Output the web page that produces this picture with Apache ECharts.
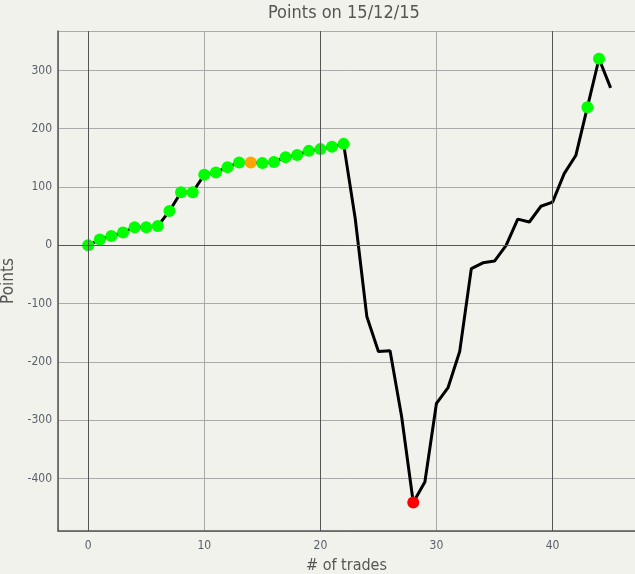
<!DOCTYPE html>
<html><head><meta charset="utf-8">
<script src="https://cdn.jsdelivr.net/npm/echarts@6/dist/echarts.min.js"></script>
<style>html,body{margin:0;padding:0;background:#f2f2ec}#c{width:635px;height:574px}</style>
</head><body><div id="c"></div>
<script>
const titleText = 'Points on 15/12/15';
const xName = '# of trades';
const yName = 'Points';
const trades = [0,1,2,3,4,5,6,7,8,9,10,11,12,13,14,15,16,17,18,19,20,21,22,23,24,25,26,27,28,29,30,31,32,33,34,35,36,37,38,39,40,41,42,43,44,45];
const points = [0,10,16,22,31,31,33,59,91,91,121,125,134,142,142,141,143,151,155,162,165,169,174,46,-122,-182,-181,-294,-441,-406,-271,-244,-182,-40,-30,-27,0,45,40,67,74,123,154,237,320,270];
const markerColors = ['g','g','g','g','g','g','g','g','g','g','g','g','g','g','o','g','g','g','g','g','g','g','g','','','','','','r','','','','','','','','','','','','','','','g','g',''];
const colorMap = {g:'#00ff00', o:'#ffa500', r:'#ff0000'};
const darkXLines = [0,20,40];
const darkYLines = [0];

const FONT = 'DejaVu Sans Condensed, DejaVu Sans, sans-serif';
const chart = echarts.init(document.getElementById('c'));
const lineData = trades.map((t,i)=>[t, points[i]]);
const markerData = [];
trades.forEach((t,i)=>{ if (markerColors[i]) markerData.push({value:[t, points[i]], itemStyle:{color: colorMap[markerColors[i]], opacity: 1}}); });

chart.setOption({
  backgroundColor: '#f2f2ec',
  animation: false,
  title: {text: titleText, left: 268, top: 4, padding: 0,
    textStyle: {fontFamily: FONT, fontSize: 18, fontWeight: 'normal', color: '#555'}},
  grid: {left: 58, right: 0, top: 31, bottom: 43, containLabel: false, outerBoundsMode: 'none'},
  xAxis: {type: 'value', min: -2.6, max: 47.1, splitNumber: 5,
    name: xName, nameLocation: 'middle', nameGap: 27, nameMoveOverlap: false,
    nameTextStyle: {fontFamily: FONT, fontSize: 16, color: '#555'},
    axisLine: {show: true, onZero: false, lineStyle: {color: '#555', width: 1.5}},
    axisTick: {show: false},
    axisLabel: {fontFamily: FONT, fontSize: 12, color: '#58606a', margin: 9, showMinLabel: false, showMaxLabel: false},
    splitLine: {show: true, lineStyle: {color: '#aaa', width: 1}}},
  yAxis: {type: 'value', min: -490, max: 367.6, splitNumber: 8,
    name: yName, nameLocation: 'middle', nameGap: 41, nameMoveOverlap: false,
    nameTextStyle: {fontFamily: FONT, fontSize: 17, color: '#555'},
    axisLine: {show: true, onZero: false, lineStyle: {color: '#555', width: 1.5}},
    axisTick: {show: false},
    axisLabel: {fontFamily: FONT, fontSize: 12, color: '#58606a', margin: 6, showMinLabel: false, showMaxLabel: false},
    splitLine: {show: true, lineStyle: {color: '#aaa', width: 1}}},
  series: [
    {type: 'line', data: [], z: 1, silent: true,
      markLine: {silent: true, symbol: 'none', label: {show: false},
        lineStyle: {color: '#555', width: 1, type: 'solid'},
        data: darkXLines.map(v=>({xAxis: v})).concat(darkYLines.map(v=>({yAxis: v})))}},
    {type: 'line', data: lineData, showSymbol: false, z: 3,
      lineStyle: {color: '#000', width: 3}, itemStyle: {color: '#000'}},
    {type: 'scatter', data: markerData, symbolSize: 12, z: 4, itemStyle: {opacity: 1}}
  ]
});
</script></body></html>
